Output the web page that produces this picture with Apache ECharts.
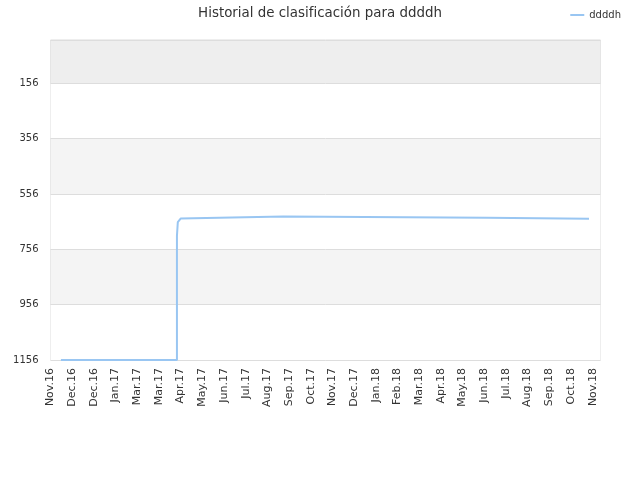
<!DOCTYPE html>
<html lang="es">

<head>
    <meta charset="UTF-8">
    <title>Historial de clasificación</title>
    <script src="https://cdn.jsdelivr.net/npm/echarts@6.0.0/dist/echarts.min.js"></script>
    <style>
        body { margin: 0; background: #fff; }
    </style>
</head>

<body>
    <div id="main" style="width: 640px;height:480px;"></div>
    <script type="text/javascript">
        // x tick labels, one per axis step
        const xLabels = ['Nov.16', 'Dec.16', 'Dec.16', 'Jan.17', 'Mar.17', 'Mar.17', 'Apr.17', 'May.17',
            'Jun.17', 'Jul.17', 'Aug.17', 'Sep.17', 'Oct.17', 'Nov.17', 'Dec.17', 'Jan.18', 'Feb.18',
            'Mar.18', 'Apr.18', 'May.18', 'Jun.18', 'Jul.18', 'Aug.18', 'Sep.18', 'Oct.18', 'Nov.18'];
        const yTicks = [156, 356, 556, 756, 956, 1156];

        // position on the x axis (in label steps) and rank
        const rankX = [0.48, 5.83, 5.83, 5.87, 5.87, 6.0, 6.07, 10.74, 10.74, 20.12, 20.12, 24.83];
        const rankY = [1156, 1156, 708, 708, 658, 645, 638, 638, 642, 642, 646, 646];

        const seriesName = 'ddddh';
        const font = 'DejaVu Sans';

        let myChart = echarts.init(document.getElementById('main'));

        const bottomRank = yTicks[yTicks.length - 1];
        const step = yTicks[1] - yTicks[0];

        let options = {
            animation: false,
            title: {
                text: 'Historial de clasificación para ' + seriesName,
                left: 'center',
                top: 2,
                textStyle: { fontFamily: font, fontSize: 13.4, fontWeight: 'normal', color: '#333' }
            },
            legend: {
                right: 14,
                top: 5,
                itemWidth: 14,
                itemHeight: 2,
                itemGap: 8,
                textStyle: { fontFamily: font, fontSize: 10, color: '#333' },
                data: [seriesName]
            },
            grid: {
                left: 50.5, right: 39.5, top: 40, bottom: 120,
                show: true, borderColor: '#dddddd', borderWidth: 1
            },
            xAxis: {
                type: 'value',
                min: 0,
                max: 25.36,
                interval: 1,
                axisLine: { show: false },
                axisTick: { show: false },
                splitLine: { show: false },
                axisLabel: {
                    rotate: 90,
                    margin: 8,
                    fontFamily: font,
                    fontSize: 11,
                    color: '#333',
                    showMaxLabel: false,
                    formatter: v => Number.isInteger(v) ? (xLabels[v] || '') : ''
                }
            },
            yAxis: [{
                // data axis (rank, best at top)
                type: 'value',
                min: 0,
                max: bottomRank,
                inverse: true,
                show: false
            }, {
                // grid lines and labels, counted up from the bottom so ticks land on yTicks
                type: 'value',
                position: 'left',
                min: 0,
                max: bottomRank,
                interval: step,
                axisLine: { show: false },
                axisTick: { show: false },
                axisLabel: {
                    margin: 12,
                    fontFamily: font,
                    fontSize: 10,
                    color: '#333',
                    showMaxLabel: false,
                    formatter: v => v > bottomRank - yTicks[0] ? '' : String(bottomRank - v)
                },
                splitLine: { show: true, lineStyle: { color: '#dddddd', width: 1 } },
                splitArea: {
                    show: true,
                    areaStyle: { color: ['#ffffff', '#f4f4f4', '#ffffff', '#f4f4f4', '#ffffff', '#eeeeee'] }
                }
            }],
            series: [{
                name: seriesName,
                type: 'line',
                yAxisIndex: 0,
                smooth: false,
                symbol: 'none',
                lineStyle: { color: '#99c6f2', width: 2 },
                itemStyle: { color: '#99c6f2' },
                data: rankX.map((x, i) => [x, rankY[i]])
            }]
        };

        myChart.setOption(options);
    </script>
</body>

</html>
